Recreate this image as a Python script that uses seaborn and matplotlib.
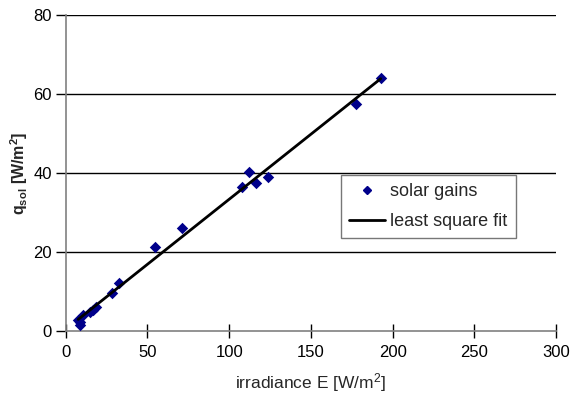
import numpy as np
import pandas as pd
import matplotlib
matplotlib.use("Agg")
import matplotlib.pyplot as plt
import seaborn as sns
from matplotlib.lines import Line2D

irradiance = [7.7, 8.8, 8.8, 10.8, 14.9, 16.9, 18.8, 28.1, 32.6, 54.7, 71.4,
              108.1, 111.9, 116.3, 123.6, 177.7, 192.7]
solar_gains = [2.8, 1.5, 2.4, 4.2, 4.9, 5.3, 6.2, 9.7, 12.1, 21.2, 26.0,
               36.5, 40.2, 37.5, 39.0, 57.5, 64.0]
x_ticks = [0, 50, 100, 150, 200, 250, 300]
y_ticks = [0, 20, 40, 60, 80]

df = pd.DataFrame({"E": irradiance, "q": solar_gains})

sns.set_style("white")
plt.rcParams["font.family"] = ["Liberation Sans", "DejaVu Sans"]
plt.rcParams["mathtext.fontset"] = "custom"
plt.rcParams["mathtext.rm"] = "Liberation Sans"
plt.rcParams["mathtext.it"] = "Liberation Sans"
plt.rcParams["mathtext.bf"] = "Liberation Sans:bold"

fig = plt.figure(figsize=(5.86, 3.98), dpi=100)
ax = fig.add_axes([0.112, 0.168, 0.837, 0.794])

for yv in y_ticks[1:]:
    ax.axhline(yv, color="black", lw=1.0, zorder=1)

sns.scatterplot(data=df, x="E", y="q", ax=ax, marker="D", s=34,
                color="#00008B", edgecolor="#00008B", linewidth=0, zorder=3)

coef = np.polyfit(df["E"], df["q"], 1)
fx = np.array([df["E"].min(), df["E"].max()])
fy = np.polyval(coef, fx)
sns.lineplot(x=fx, y=fy, ax=ax, color="black", lw=2, zorder=4)

ax.set_xlim(0, 300)
ax.set_ylim(0, 80)
ax.set_xticks(x_ticks)
ax.set_yticks(y_ticks)
ax.tick_params(axis="x", direction="inout", length=10, width=1, colors="black", labelsize=12, pad=5)
ax.tick_params(axis="y", direction="out", length=7, width=1, colors="black", labelsize=12, pad=3)
ax.tick_params(axis="both", which="both", left=True, bottom=True)
for s in ["top", "right"]:
    ax.spines[s].set_visible(False)
for s in ["left", "bottom"]:
    ax.spines[s].set_color("#808080")
    ax.spines[s].set_linewidth(1.2)

ax.set_xlabel(r"irradiance E [W/m$^2$]", fontsize=12.5, labelpad=8)
ax.set_ylabel(r"$\mathbf{q_{sol}}$ [W/m$^\mathbf{2}$]", fontsize=11.5, fontweight="bold", labelpad=2)

handles = [Line2D([], [], marker="D", color="#00008B", ls="none", markersize=4.5),
           Line2D([], [], color="black", lw=2)]
leg = ax.legend(handles, ["solar gains", "least square fit"], loc="upper left",
                bbox_to_anchor=(0.561, 0.493), frameon=True, fancybox=False,
                edgecolor="#555555", fontsize=13, handlelength=2.0,
                borderpad=0.45, labelspacing=0.7, handletextpad=0.3, borderaxespad=0)
leg.get_frame().set_linewidth(1.0)

fig.savefig("out.png", dpi=100)
